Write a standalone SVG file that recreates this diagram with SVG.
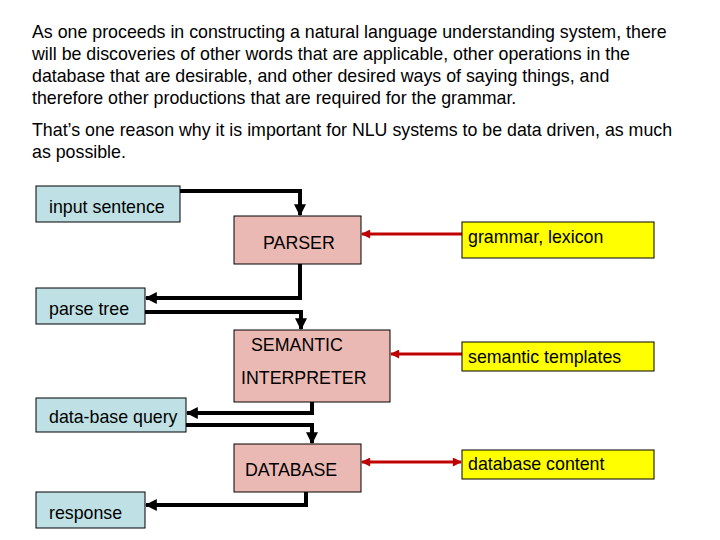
<svg xmlns="http://www.w3.org/2000/svg" width="720" height="540" viewBox="0 0 720 540">
<style>
text{font-family:"Liberation Sans",Arial,sans-serif;font-size:17.8px;fill:#000}
.in{fill:#bfe0e4;stroke:#000;stroke-width:1}
.pr{fill:#ebb9b3;stroke:#000;stroke-width:1}
.rs{fill:#ffff00;stroke:#000;stroke-width:1}
.bk{fill:none;stroke:#000;stroke-width:4}
.rd{fill:none;stroke:#c00000;stroke-width:3}
</style>
<defs>
<marker id="ab" viewBox="0 0 10 10" refX="9" refY="5" markerWidth="3" markerHeight="3.5" orient="auto"><path d="M0,0L10,5L0,10z" fill="#000"/></marker>
<marker id="ar" viewBox="0 0 10 10" refX="9" refY="5" markerWidth="4" markerHeight="3" orient="auto-start-reverse"><path d="M0,0L10,5L0,10z" fill="#c00000"/></marker>
</defs>
<text x="32" y="38">As one proceeds in constructing a natural language understanding system, there</text>
<text x="32" y="60">will be discoveries of other words that are applicable, other operations in the</text>
<text x="32" y="82">database that are desirable, and other desired ways of saying things, and</text>
<text x="32" y="104">therefore other productions that are required for the grammar.</text>
<text x="32" y="136">That’s one reason why it is important for NLU systems to be data driven, as much</text>
<text x="32" y="158">as possible.</text>
<g id="connectors">
<path class="bk" d="M180,191H300V215" marker-end="url(#ab)"/>
<path class="bk" d="M300,264V298H146" marker-end="url(#ab)"/>
<path class="bk" d="M145,312H301V329" marker-end="url(#ab)"/>
<path class="bk" d="M312,402V413H187" marker-end="url(#ab)"/>
<path class="bk" d="M186,425H312V443" marker-end="url(#ab)"/>
<path class="bk" d="M306,492V505H146" marker-end="url(#ab)"/>
<path class="rd" d="M462,234H362" marker-end="url(#ar)"/>
<path class="rd" d="M462,354H391" marker-end="url(#ar)"/>
<path class="rd" d="M461,462H362" marker-start="url(#ar)" marker-end="url(#ar)"/>
</g>
<g id="input"><rect class="in" x="36" y="186" width="144" height="36"/><text x="49" y="213">input sentence</text></g>
<g id="parser"><rect class="pr" x="234" y="216" width="127" height="48"/><text x="263" y="249">PARSER</text></g>
<g id="parsetree"><rect class="in" x="36" y="288" width="109" height="36"/><text x="49" y="315">parse tree</text></g>
<g id="semantic"><rect class="pr" x="234" y="330" width="156" height="72"/><text x="251" y="351">SEMANTIC</text><text x="241" y="384">INTERPRETER</text></g>
<g id="query"><rect class="in" x="36" y="398" width="150" height="34"/><text x="49" y="423">data-base query</text></g>
<g id="database"><rect class="pr" x="234" y="444" width="127" height="48"/><text x="245" y="476">DATABASE</text></g>
<g id="response"><rect class="in" x="36" y="492" width="109" height="36"/><text x="49" y="519">response</text></g>
<g id="grammar"><rect class="rs" x="462" y="222" width="192" height="36"/><text x="468" y="243">grammar, lexicon</text></g>
<g id="templates"><rect class="rs" x="462" y="342" width="192" height="29"/><text x="468" y="363">semantic templates</text></g>
<g id="content"><rect class="rs" x="462" y="450" width="192" height="29"/><text x="468" y="470">database content</text></g>
</svg>
